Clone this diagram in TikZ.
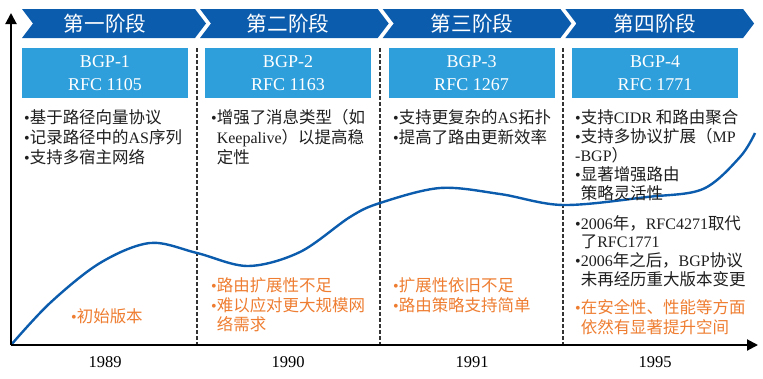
\documentclass[tikz,border=0pt]{standalone}
\usepackage{fontspec}
\setmainfont{Liberation Serif}
\newfontfamily\cjk{Noto Sans CJK SC}[Scale=1.03]
\usetikzlibrary{arrows.meta}
\definecolor{dblue}{HTML}{0B5CAD}
\definecolor{lblue}{HTML}{2F9FDB}
\definecolor{orng}{HTML}{EE7D31}
\definecolor{txt}{HTML}{1E1E1E}
\newcommand\zh[1]{{\cjk #1}}
\newcommand\ind{\phantom{•}}
\begin{document}
\begin{tikzpicture}[x=1pt,y=-1pt,
  ln/.style={anchor=west, inner sep=0pt, text height=14.5pt, text depth=2pt,
    font=\fontsize{16}{19}\selectfont, text=txt},
  orl/.style={ln, text=orng},
  hbox/.style={fill=lblue, text=white, minimum width=166pt, minimum height=50pt,
    align=center, inner sep=0pt, font=\fontsize{18}{23}\selectfont},
  phase/.style={text=white, inner sep=0pt, font=\fontsize{20}{22}\selectfont\cjk},
  year/.style={inner sep=0pt, font=\fontsize{16.5}{20}\selectfont},
  sep/.style={line width=1.1pt, black!80, dash pattern=on 3.5pt off 2.5pt},
  axis/.style={line width=2pt, -{Triangle[length=11pt,width=11pt]}},
  curve/.style={dblue, line width=2.4pt}]
\useasboundingbox (0,0) rectangle (763,378);

% chevrons
\fill[dblue] (22,9) -- (195,9) -- (206,23.5) -- (195,38) -- (22,38) -- (33,23.5) -- cycle;
\foreach \i in {1,2,3}{
  \pgfmathsetmacro\L{200+182.7*(\i-1)}
  \pgfmathsetmacro\R{195+182.7*\i}
  \fill[dblue] (\L,9) -- (\R,9) -- (\R+11,23.5) -- (\R,38) -- (\L,38) -- (\L+11,23.5) -- cycle;
}
\node[phase] (p1) at (105,24) {第一阶段};
\node[phase] (p2) at (288,24) {第二阶段};
\node[phase] (p3) at (472,24) {第三阶段};
\node[phase] (p4) at (655,24) {第四阶段};

% version boxes
\node[hbox] (b1) at (105,73) {BGP-1\\RFC 1105};
\node[hbox] (b2) at (288,73) {BGP-2\\RFC 1163};
\node[hbox] (b3) at (471.5,73) {BGP-3\\RFC 1267};
\node[hbox] (b4) at (655,73) {BGP-4\\RFC 1771};

% separators
\foreach \x/\n in {197/s1,380/s2,563/s3}{
  \coordinate (\n t) at (\x,48);
  \coordinate (\n b) at (\x,345);
  \draw[sep] (\n t) -- (\n b);
}

% curve
\draw[curve] plot[smooth, tension=0.55] coordinates {(11,345) (50,303) (100,263) (150,243) (197,253) (248,266) (300,252) (350,217) (380,203) (440,188) (500,194) (563,205) (647,197) (703,189) (740,157) (755,133)};

% axes
\coordinate (o) at (11,345);
\coordinate (yt) at (11,13);
\coordinate (xt) at (758,345);
\draw[axis] (o) -- (yt);
\draw[axis] (o) -- (xt);

% column 1
\node[ln] (a1) at (24,117) {•\zh{基于路径向量协议}};
\node[ln] (a2) at (24,137) {•\zh{记录路径中的}AS\zh{序列}};
\node[ln] (a3) at (24,157) {•\zh{支持多宿主网络}};
\node[orl] (a4) at (71,316) {•\zh{初始版本}};

% column 2
\node[ln] (c1) at (211,117) {•\zh{增强了消息类型（如}};
\node[ln] (c2) at (211,137) {\ind Keepalive\zh{）以提高稳}};
\node[ln] (c3) at (211,157) {\ind\zh{定性}};
\node[orl] (c4) at (211,285) {•\zh{路由扩展性不足}};
\node[orl] (c5) at (211,305) {•\zh{难以应对更大规模网}};
\node[orl] (c6) at (211,324) {\ind\zh{络需求}};

% column 3
\node[ln] (d1) at (393,117) {•\zh{支持更复杂的}AS\zh{拓扑}};
\node[ln] (d2) at (393,137) {•\zh{提高了路由更新效率}};
\node[orl] (d3) at (393,285) {•\zh{扩展性依旧不足}};
\node[orl] (d4) at (393,305) {•\zh{路由策略支持简单}};

% column 4
\node[ln] (e1) at (575,117) {•\zh{支持}CIDR \zh{和路由聚合}};
\node[ln] (e2) at (575,136) {•\zh{支持多协议扩展（}MP};
\node[ln] (e3) at (575,155) {-BGP\zh{）}};
\node[ln] (e4) at (575,174) {•\zh{显著增强路由}};
\node[ln] (e5) at (575,193) {\ind\zh{策略灵活性}};
\node[ln] (e6) at (575,223) {•2006\zh{年，}RFC4271\zh{取代}};
\node[ln] (e7) at (575,241) {\ind\zh{了}RFC1771};
\node[ln] (e8) at (575,260) {•2006\zh{年之后，}BGP\zh{协议}};
\node[ln] (e9) at (575,279) {\ind\zh{未再经历重大版本变更}};
\node[orl] (e10) at (575,307) {•\zh{在安全性、性能等方面}};
\node[orl] (e11) at (575,327) {\ind\zh{依然有显著提升空间}};

% years
\node[year] (y1) at (105,362) {1989};
\node[year] (y2) at (288,362) {1990};
\node[year] (y3) at (472,362) {1991};
\node[year] (y4) at (655,362) {1995};
\end{tikzpicture}
\end{document}
